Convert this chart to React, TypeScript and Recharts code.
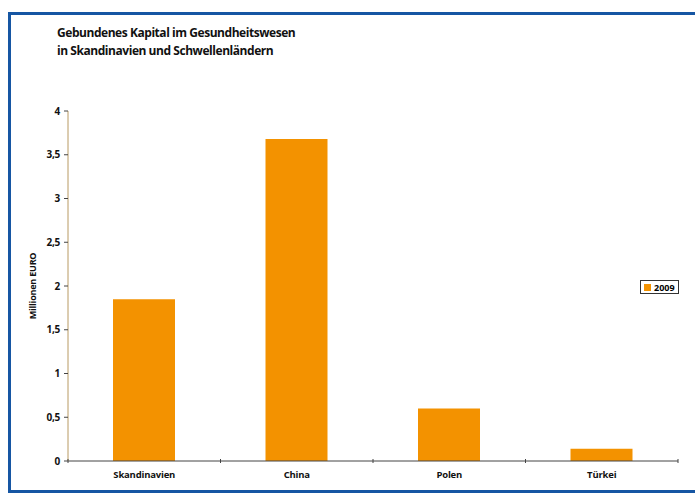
import { Bar, BarChart, XAxis, YAxis } from "recharts";

const CATEGORIES = ["Skandinavien", "China", "Polen", "Türkei"];
const VALUES_2009 = [1.85, 3.68, 0.6, 0.14];
const Y_TICKS = [0, 0.5, 1, 1.5, 2, 2.5, 3, 3.5, 4];

const data = CATEGORIES.map((name, i) => ({ name, v2009: VALUES_2009[i] }));

const FONT = "'Open Sans', 'Noto Sans', sans-serif";
const ORANGE = "#f39200";
const BLUE = "#1656a3";

const W = 695;
const H = 494;
const MARGIN = { top: 111, right: 17, bottom: 3, left: 0 };
const Y_AXIS_W = 68;
const BAND = (W - MARGIN.left - MARGIN.right - Y_AXIS_W) / CATEGORIES.length;

const fmt = (v: number) => String(v).replace(".", ",");

// category label plus the tick marks that sit on the band edges
function CategoryTick(props: any) {
  const { x, y, payload, index } = props;
  const left = x - BAND / 2;
  const right = x + BAND / 2;
  return (
    <g>
      <line x1={left} x2={left} y1={y - 8} y2={y - 4} stroke="#444" />
      {index === CATEGORIES.length - 1 && <line x1={right} x2={right} y1={y - 8} y2={y - 4} stroke="#444" />}
      <text
        x={x}
        y={y + 11}
        textAnchor="middle"
        fontSize={9.5}
        fontWeight={700}
        fill="#111"
        fontFamily={FONT}
        letterSpacing={-0.2}
      >
        {payload.value}
      </text>
    </g>
  );
}

export default function App() {
  return (
    <div
      style={{
        position: "fixed",
        left: 0,
        top: 0,
        width: W,
        height: H,
        overflow: "hidden",
        background: "#fff",
        fontFamily: FONT,
      }}
    >
      {/* frame: left, top and bottom rules only, running off the right edge */}
      <div style={{ position: "absolute", left: 8, top: 12, width: 3, height: 481, background: BLUE }} />
      <div style={{ position: "absolute", left: 8, top: 12, width: W - 8, height: 3, background: BLUE }} />
      <div style={{ position: "absolute", left: 8, top: 490, width: W - 8, height: 3, background: BLUE }} />
      <div
        style={{
          position: "absolute",
          left: 57,
          top: 24,
          fontSize: 12,
          fontWeight: 700,
          lineHeight: "18px",
          color: "#111",
          letterSpacing: -0.45,
        }}
      >
        Gebundenes Kapital im Gesundheitswesen
        <br />
        in Skandinavien und Schwellenländern
      </div>
      <div style={{ position: "absolute", left: 0, top: 0 }}>
        <BarChart width={W} height={H} data={data} margin={MARGIN}>
          <XAxis
            dataKey="name"
            height={30}
            axisLine={{ stroke: "#444" }}
            tickLine={false}
            tickSize={4}
            interval={0}
            tick={<CategoryTick />}
          />
          <YAxis
            width={Y_AXIS_W}
            domain={[0, 4]}
            ticks={Y_TICKS}
            tickFormatter={fmt}
            tickSize={4}
            tickMargin={4}
            tickLine={{ stroke: "#444" }}
            axisLine={{ stroke: "#b89a62" }}
            tick={{ fontSize: 10, fontWeight: 700, fill: "#111", fontFamily: FONT, letterSpacing: -0.3 }}
            label={{
              value: "Millionen EURO",
              angle: -90,
              position: "insideLeft",
              offset: 33,
              style: { fontSize: 9, fontWeight: 700, fill: "#111", fontFamily: FONT, textAnchor: "middle", letterSpacing: -0.2 },
            }}
          />
          <Bar dataKey="v2009" name="2009" fill={ORANGE} barSize={62} isAnimationActive={false} />
        </BarChart>
      </div>
      <div
        style={{
          position: "absolute",
          left: 640,
          top: 280,
          display: "flex",
          alignItems: "center",
          border: "1px solid #333",
          padding: "0 3px",
          height: 12,
          fontSize: 9,
          fontWeight: 700,
          background: "#fff",
        }}
      >
        <span style={{ width: 7, height: 7, background: ORANGE, marginRight: 3, display: "inline-block" }} />
        2009
      </div>
    </div>
  );
}
